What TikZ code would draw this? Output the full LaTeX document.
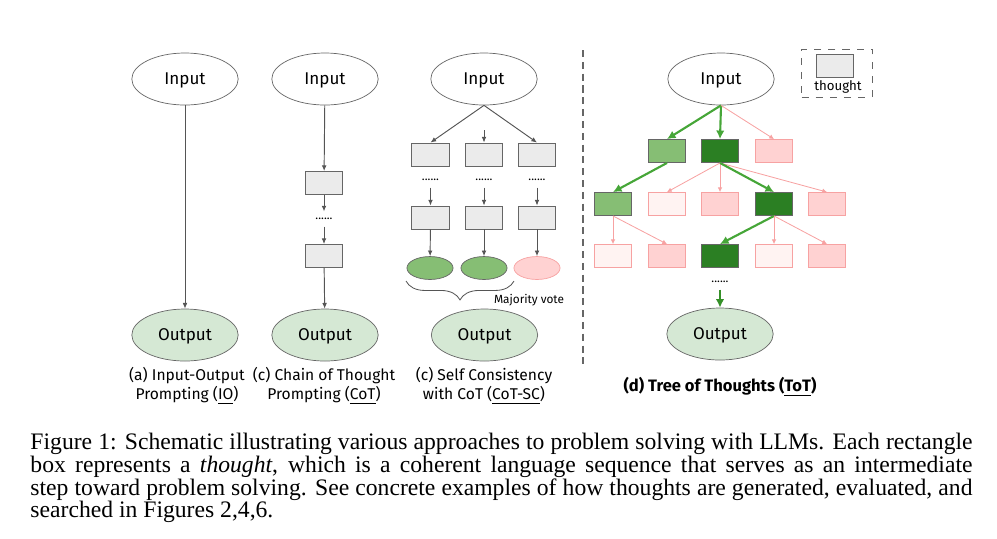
\documentclass[tikz,border=0pt]{standalone}
\usepackage{fontspec}
\setmainfont{Liberation Serif}
\newfontfamily\diagfont{Fira Sans}
\usetikzlibrary{arrows.meta,shapes.geometric,decorations.pathreplacing}

\definecolor{boxgray}{HTML}{EBEBEB}
\definecolor{edgegray}{HTML}{666666}
\definecolor{arrowgray}{HTML}{555555}
\definecolor{outgreen}{HTML}{D5E8D4}
\definecolor{lightgreen}{HTML}{86BE74}
\definecolor{darkgreen}{HTML}{2B7F23}
\definecolor{pathgreen}{HTML}{46A638}
\definecolor{finalgreen}{HTML}{359028}
\definecolor{pinkfill}{HTML}{FFD2D2}
\definecolor{palepink}{HTML}{FFF3F2}
\definecolor{pinkline}{HTML}{F7A2A2}

\tikzset{
  io/.style={ellipse,draw=edgegray,line width=0.3pt,minimum width=45pt,minimum height=22pt,
    inner sep=0,text depth=0pt,font=\diagfont\fontsize{7.2}{8}\selectfont},
  outnode/.style={io,fill=outgreen},
  thought/.style={rectangle,draw=edgegray,fill=boxgray,line width=0.4pt,
    minimum width=15.7pt,minimum height=9.7pt,inner sep=0},
  pinkbox/.style={thought,draw=pinkline,fill=pinkfill},
  palebox/.style={thought,draw=pinkline,fill=palepink},
  vote/.style={ellipse,draw=edgegray,line width=0.3pt,fill=lightgreen,
    minimum width=19.5pt,minimum height=9.7pt,inner sep=0},
  dotsnode/.style={inner sep=0,minimum height=6pt,font=\diagfont\fontsize{5}{5}\selectfont},
  caplabel/.style={align=center,inner sep=0,font=\diagfont\fontsize{6.6}{8}\selectfont},
  arr/.style={-{Latex[length=2.4pt,width=2pt]},draw=arrowgray,line width=0.4pt},
  good/.style={-{Latex[length=3.6pt,width=3.6pt]},draw=pathgreen,line width=0.9pt},
  bad/.style={-{Latex[length=2pt,width=2pt]},draw=pinkline,line width=0.35pt}
}

\begin{document}
\begin{tikzpicture}[x=0.423pt,y=-0.423pt]
  \useasboundingbox (0,0) rectangle (997,538);

  % (a) input-output
  \node[io] (ain) at (185,79) {Input};
  \node[outnode] (aout) at (185,335) {Output};
  \draw[arr] (ain) -- (aout);
  \node[caplabel] (alab) at (187,386) {(a) Input-Output\\Prompting (\underline{IO})};

  % (c) chain of thought
  \node[io] (cin) at (325,79) {Input};
  \node[thought] (cb1) at (324,183) {};
  \node[dotsnode] (cdots) at (324,219) {......};
  \node[thought] (cb2) at (324,256) {};
  \node[outnode] (cout) at (325,335) {Output};
  \draw[arr] (cin) -- (cb1);
  \draw[arr] (cb1) -- (cdots);
  \draw[arr] (cdots) -- (cb2);
  \draw[arr] (cb2) -- (cout);
  \node[caplabel] (clab) at (324,386) {(c) Chain of Thought\\Prompting (\underline{CoT})};

  % (c) self consistency
  \node[io] (sin) at (484,79) {Input};
  \coordinate (sfree) at (484,130);
  \foreach \n/\x in {a/430.5,b/484,c/537}{
    \node[thought] (s1\n) at (\x,154.5) {};
    \node[dotsnode] (sd\n) at (\x,180) {......};
    \node[thought] (s2\n) at (\x,217.5) {};
    \draw[arr] (sd\n) -- (s2\n);
  }
  \node[vote] (va) at (430,268) {};
  \node[vote] (vb) at (484,268) {};
  \node[vote,draw=pinkline,fill=pinkfill] (vc) at (537,268) {};
  \draw[arr] (sin.south) -- (s1a.north);
  \draw[arr] (sfree) -- (s1b.north);
  \draw[arr] (sin.south) -- (s1c.north);
  \draw[arr] (s2a) -- (va);
  \draw[arr] (s2b) -- (vb);
  \draw[arr] (s2c) -- (vc);
  \coordinate (brl) at (406,281);
  \coordinate (brr) at (514,281);
  \draw[arrowgray,line width=0.35pt,decorate,decoration={brace,amplitude=8pt,mirror}] (brl) -- (brr);
  \node[inner sep=0,font=\diagfont\fontsize{5}{6}\selectfont] (mvote) at (529,300) {Majority vote};
  \node[outnode] (sout) at (484.5,335) {Output};
  \node[caplabel] (slab) at (484,386) {(c) Self Consistency\\with CoT (\underline{CoT-SC})};

  % separator
  \draw[edgegray,line width=0.9pt,dash pattern=on 3pt off 2pt] (583,50) -- (583,364);

  % (d) tree of thoughts
  \node[draw=edgegray,dashed,line width=0.35pt,minimum width=30pt,minimum height=20.3pt,inner sep=0] (legend) at (837,73) {};
  \node[thought] (legbox) at (835,66) {};
  \node[inner sep=0,font=\diagfont\fontsize{5.6}{6}\selectfont] (legtxt) at (838,87) {thought};

  \node[io] (tin) at (721,79) {Input};
  \node[thought,fill=lightgreen] (r1a) at (667,151) {};
  \node[thought,fill=darkgreen] (r1b) at (720,151) {};
  \node[pinkbox] (r1c) at (774,151) {};

  \node[thought,fill=lightgreen] (r2a) at (613,204) {};
  \node[palebox] (r2b) at (667,204) {};
  \node[pinkbox] (r2c) at (720,204) {};
  \node[thought,fill=darkgreen] (r2d) at (774,204) {};
  \node[pinkbox] (r2e) at (827,204) {};

  \node[palebox] (r3a) at (613,256) {};
  \node[pinkbox] (r3b) at (667,256) {};
  \node[thought,fill=darkgreen] (r3c) at (720,256) {};
  \node[palebox] (r3d) at (774,256) {};
  \node[pinkbox] (r3e) at (827,256) {};

  \draw[good] (tin.south) -- (r1a.north);
  \draw[good] (tin.south) -- (r1b.north);
  \draw[bad] (tin.south) -- (r1c.north);
  \draw[good] (r1a.south) -- (r2a.north);
  \foreach \t in {r2b,r2c,r2e} \draw[bad] (r1b.south) -- (\t.north);
  \draw[good] (r1b.south) -- (r2d.north);
  \foreach \t in {r3a,r3b} \draw[bad] (r2a.south) -- (\t.north);
  \draw[good] (r2d.south) -- (r3c.north);
  \foreach \t in {r3d,r3e} \draw[bad] (r2d.south) -- (\t.north);

  \node[dotsnode] (tdots) at (720,282) {......};
  \node[outnode] (tout) at (720,334) {Output};
  \draw[good,draw=finalgreen] (tdots) -- (tout);
  \node[caplabel] (tlab) at (720,387) {\fontsize{7}{8}\selectfont\textbf{(d) Tree of Thoughts (\underline{ToT})}};

  % caption
  \node[anchor=north west,inner sep=0,text width=398.5pt,align=justify,
    font=\fontsize{10}{9.6}\selectfont] (caption) at (30,433)
    {Figure 1: Schematic illustrating various approaches to problem solving with LLMs. Each rectangle\linebreak
     box represents a \emph{thought}, which is a coherent language sequence that serves as an intermediate\linebreak
     step toward problem solving. See concrete examples of how thoughts are generated, evaluated, and\linebreak
     searched in Figures 2,4,6.};
\end{tikzpicture}
\end{document}
